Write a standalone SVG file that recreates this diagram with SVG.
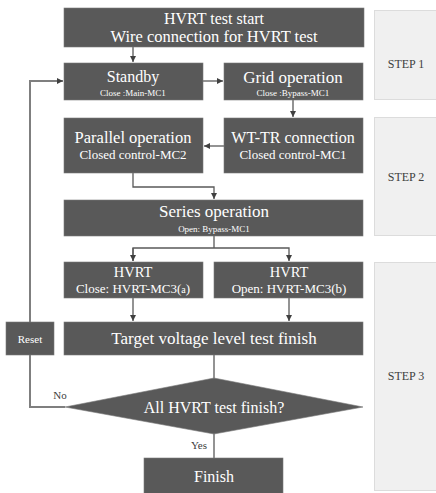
<svg xmlns="http://www.w3.org/2000/svg" width="436" height="493" viewBox="0 0 436 493">
<style>
.box{fill:#595959;stroke:#7a7a7a;stroke-width:0.6}
.step{fill:#f0f0f0;stroke:#dcdcdc;stroke-width:1}
.t{font-family:"Liberation Serif","DejaVu Serif",serif;fill:#ffffff;text-anchor:middle}
.s{font-family:"Liberation Serif","DejaVu Serif",serif;fill:#404040;text-anchor:middle}
.ln{fill:none;stroke:#595959;stroke-width:1.3}
.ln2{fill:none;stroke:#7f7f7f;stroke-width:2}
</style>
<defs>
<marker id="ah" viewBox="0 0 10 10" refX="10" refY="5" markerWidth="6" markerHeight="6" markerUnits="userSpaceOnUse" orient="auto">
<path d="M0,0 L10,5 L0,10 z" fill="#404040"/>
</marker>
</defs>
<rect width="436" height="493" fill="#ffffff"/>
<g id="steps">
<rect class="step" x="374.5" y="10.5" width="70" height="89"/>
<text class="s" x="406" y="68" font-size="12">STEP 1</text>
<rect class="step" x="374.5" y="117.5" width="70" height="118"/>
<text class="s" x="406" y="181" font-size="12">STEP 2</text>
<rect class="step" x="374.5" y="262.5" width="70" height="228"/>
<text class="s" x="406" y="380" font-size="12">STEP 3</text>
</g>
<g id="connectors">
<path class="ln" d="M133,47 V62" marker-end="url(#ah)"/>
<path class="ln" d="M203,81 H223" marker-end="url(#ah)"/>
<path class="ln" d="M293,100 V117" marker-end="url(#ah)"/>
<path class="ln" d="M224,146 H204" marker-end="url(#ah)"/>
<path class="ln" d="M133,173 V187 H214 V199" marker-end="url(#ah)"/>
<path class="ln" d="M214,236 V248"/>
<path class="ln" d="M133,261 V248 H289 V261" marker-end="url(#ah)"/>
<path class="ln" d="M133,248 V261" marker-end="url(#ah)"/>
<path class="ln" d="M133,298 V321" marker-end="url(#ah)"/>
<path class="ln" d="M289,298 V321" marker-end="url(#ah)"/>
<path class="ln" d="M214,355 V378"/>
<path class="ln" d="M214,434 V458"/>
<path class="ln2" d="M65,407 H30 V81 H63" marker-end="url(#ah)"/>
<text class="s" x="60" y="399" font-size="11">No</text>
<text class="s" x="199" y="449" font-size="11">Yes</text>
</g>
<g id="start">
<rect class="box" x="64" y="8" width="300" height="39"/>
<text class="t" x="214" y="24" font-size="16">HVRT test start</text>
<text class="t" x="214" y="42" font-size="16.5">Wire connection for HVRT test</text>
</g>
<g id="standby">
<rect class="box" x="64" y="63" width="139" height="37"/>
<text class="t" x="133" y="82" font-size="16">Standby</text>
<text class="t" x="133" y="96" font-size="9">Close :Main-MC1</text>
</g>
<g id="grid">
<rect class="box" x="224" y="63" width="139" height="37"/>
<text class="t" x="293" y="83" font-size="17">Grid operation</text>
<text class="t" x="293" y="96" font-size="9">Close :Bypass-MC1</text>
</g>
<g id="parallel">
<rect class="box" x="64" y="118" width="139" height="55"/>
<text class="t" x="133" y="143" font-size="16.5">Parallel  operation</text>
<text class="t" x="133" y="159" font-size="13">Closed control-MC2</text>
</g>
<g id="wttr">
<rect class="box" x="224" y="118" width="139" height="55"/>
<text class="t" x="293" y="143" font-size="16">WT-TR connection</text>
<text class="t" x="293" y="159" font-size="13">Closed control-MC1</text>
</g>
<g id="series">
<rect class="box" x="64" y="200" width="299" height="36"/>
<text class="t" x="214" y="217" font-size="17">Series  operation</text>
<text class="t" x="214" y="232" font-size="9">Open: Bypass-MC1</text>
</g>
<g id="hvrt-a">
<rect class="box" x="64" y="262" width="139" height="36"/>
<text class="t" x="133" y="277" font-size="14.5">HVRT</text>
<text class="t" x="133" y="293" font-size="13">Close: HVRT-MC3(<tspan font-size="10">a</tspan>)</text>
</g>
<g id="hvrt-b">
<rect class="box" x="214" y="262" width="149" height="36"/>
<text class="t" x="289" y="277" font-size="14.5">HVRT</text>
<text class="t" x="289" y="293" font-size="13">Open: HVRT-MC3(b)</text>
</g>
<g id="target">
<rect class="box" x="64" y="322" width="299" height="33"/>
<text class="t" x="214" y="344" font-size="17">Target voltage level test finish</text>
</g>
<g id="reset">
<rect class="box" x="6" y="322" width="48" height="33"/>
<text class="t" x="30" y="343" font-size="11">Reset</text>
</g>
<g id="decision">
<polygon class="box" points="214,378 363,407 214,434 65,407"/>
<text class="t" x="214" y="413" font-size="16">All HVRT test finish?</text>
</g>
<g id="finish">
<rect class="box" x="144" y="458" width="139" height="40"/>
<text class="t" x="214" y="482" font-size="16">Finish</text>
</g>
</svg>
